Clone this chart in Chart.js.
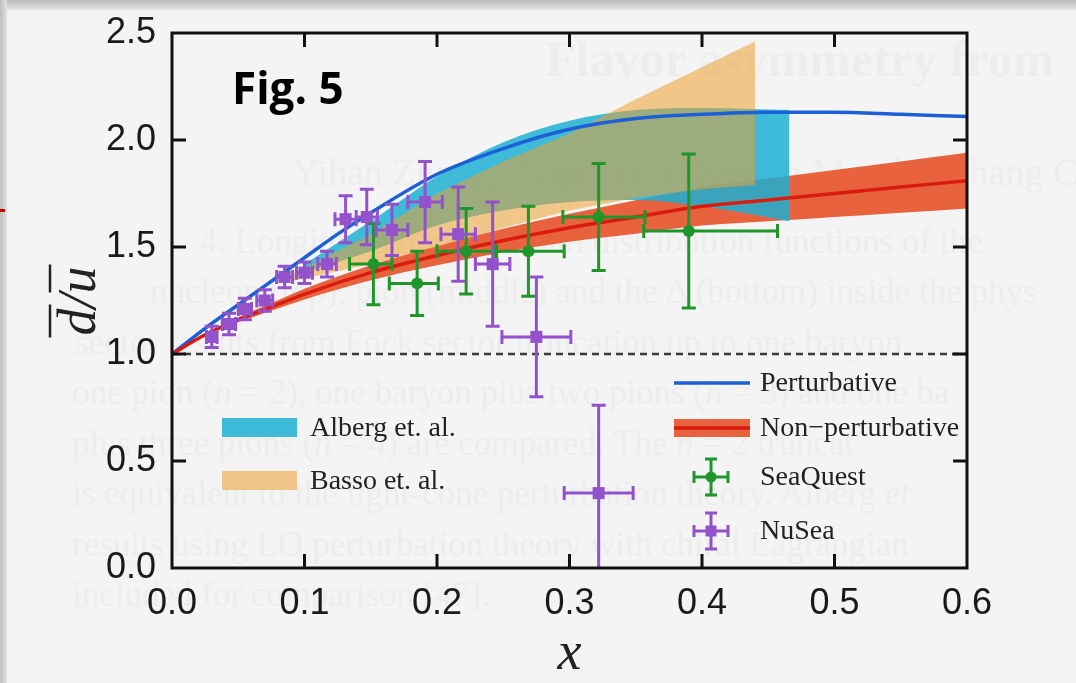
<!DOCTYPE html>
<html>
<head>
<meta charset="utf-8">
<script src="https://cdn.jsdelivr.net/npm/chart.js@4.4.1/dist/chart.umd.min.js"></script>
<style>
  html, body { margin: 0; padding: 0; }
  body { width: 1076px; height: 683px; overflow: hidden; background: #f4f4f4; position: relative; }
  #topbar { position: absolute; left: 0; top: 0; width: 1076px; height: 10px; background: linear-gradient(#b9b9b9, #e4e4e4); }
  #leftbar { position: absolute; left: 0; top: 0; width: 7px; height: 683px; background: linear-gradient(90deg, #bdbdbd, #e2e2e2); }
  #redmark { position: absolute; left: 0; top: 209px; width: 5px; height: 3px; background: #c40000; }
  .wm { position: absolute; color: #ededed; white-space: nowrap; font-family: 'Liberation Serif', serif; font-size: 35px; }
  #wrap { position: absolute; left: 0; top: 0; width: 1076px; height: 683px; }
</style>
</head>
<body>
<div id="topbar"></div>
<div id="leftbar"></div>
<div id="redmark"></div>
<div class="wm" style="left:545px;top:30px;font-size:50px;font-weight:bold;">Flavor asymmetry from</div>
<div class="wm" style="left:292px;top:150px;font-size:38px;">Yihan Zhong,<sup style="font-size:20px">1</sup> Siqi Xu,<sup style="font-size:20px">2</sup> Chandan Mondal, Shang Cheng,<sup style="font-size:20px">5</sup></div>
<div class="wm" style="left:200px;top:222px;">4. Longitudinal momentum distribution functions of the</div>
<div class="wm" style="left:150px;top:272px;">nucleon (top), pion (middle) and the Δ (bottom) inside the phys</div>
<div class="wm" style="left:75px;top:323px;">sector results from Fock sector truncation up to one baryon</div>
<div class="wm" style="left:72px;top:373px;">one pion (<i>n</i> = 2), one baryon plus two pions (<i>n</i> = 3) and one ba</div>
<div class="wm" style="left:72px;top:424px;">plus three pions (<i>n</i> = 4) are compared. The <i>n</i> = 2 truncat</div>
<div class="wm" style="left:72px;top:474px;">is equivalent to the light-cone perturbation theory. Alberg <i>et</i></div>
<div class="wm" style="left:72px;top:525px;">results using LO perturbation theory with chiral Lagrangian</div>
<div class="wm" style="left:72px;top:575px;">included for comparison [47].</div>
<div id="wrap"><canvas id="chart" width="1076" height="683"></canvas></div>
<script>
// axis ticks
const xTicks = [0, 0.1, 0.2, 0.3, 0.4, 0.5, 0.6];
const yTicks = [0, 0.5, 1.0, 1.5, 2.0, 2.5];

// Perturbative (blue line)
const pertX = [0, 0.025, 0.05, 0.075, 0.1, 0.125, 0.15, 0.2, 0.25, 0.3, 0.35, 0.4, 0.45, 0.5, 0.55, 0.6];
const pertY = [1.0, 1.12, 1.23, 1.34, 1.45, 1.56, 1.66, 1.84, 1.96, 2.05, 2.10, 2.12, 2.13, 2.13, 2.12, 2.11];

// Non-perturbative (red line + band)
const nonpX = [0, 0.025, 0.05, 0.075, 0.1, 0.15, 0.2, 0.25, 0.3, 0.35, 0.4, 0.45, 0.5, 0.55, 0.6];
const nonpY = [1.0, 1.09, 1.16, 1.22, 1.28, 1.38, 1.46, 1.53, 1.59, 1.64, 1.69, 1.72, 1.75, 1.78, 1.81];
const nonpHigh = [1.0, 1.096, 1.172, 1.238, 1.305, 1.415, 1.505, 1.585, 1.655, 1.718, 1.78, 1.82, 1.86, 1.90, 1.94];
const nonpLow = [1.0, 1.084, 1.148, 1.202, 1.255, 1.345, 1.415, 1.475, 1.525, 1.562, 1.60, 1.62, 1.64, 1.66, 1.68];

// Alberg et. al. band
const albergX = [0.1, 0.125, 0.15, 0.2, 0.25, 0.3, 0.35, 0.4, 0.466];
const albergHigh = [1.42, 1.52, 1.62, 1.83, 1.99, 2.09, 2.14, 2.15, 2.14];
const albergLow = [1.38, 1.43, 1.48, 1.60, 1.67, 1.71, 1.72, 1.69, 1.62];

// Basso et. al. band
const bassoX = [0.09, 0.15, 0.2, 0.25, 0.3, 0.35, 0.4, 0.44];
const bassoHigh = [1.37, 1.56, 1.75, 1.90, 2.03, 2.19, 2.34, 2.46];
const bassoLow = [1.34, 1.42, 1.50, 1.59, 1.67, 1.73, 1.77, 1.79];

// dashed reference at 1
const refX = [0, 0.6];
const refY = [1, 1];

// NuSea
const nuseaX = [0.030, 0.043, 0.055, 0.070, 0.085, 0.100, 0.117, 0.131, 0.147, 0.166, 0.191, 0.216, 0.242, 0.275, 0.322];
const nuseaY = [1.08, 1.14, 1.21, 1.25, 1.36, 1.38, 1.42, 1.63, 1.64, 1.58, 1.71, 1.56, 1.42, 1.08, 0.35];
const nuseaXErr = [0.004, 0.005, 0.005, 0.006, 0.006, 0.006, 0.007, 0.008, 0.008, 0.012, 0.013, 0.013, 0.013, 0.026, 0.026];
const nuseaYErr = [0.05, 0.05, 0.05, 0.05, 0.05, 0.05, 0.06, 0.11, 0.13, 0.12, 0.19, 0.22, 0.29, 0.28, 0.41];

// SeaQuest
const seaqX = [0.152, 0.185, 0.222, 0.269, 0.322, 0.390];
const seaqY = [1.42, 1.33, 1.48, 1.48, 1.64, 1.575];
const seaqXLow = [0.134, 0.164, 0.200, 0.243, 0.295, 0.356];
const seaqXHigh = [0.166, 0.201, 0.245, 0.296, 0.357, 0.457];
const seaqYErr = [0.19, 0.15, 0.20, 0.21, 0.25, 0.36];

const legendLeft = ['Alberg et. al.', 'Basso et. al.'];
const legendRight = ['Perturbative', 'Non\u2212perturbative', 'SeaQuest', 'NuSea'];

const BLUE = '#1d5fd6';
const RED = '#d91c0e';
const REDBAND = 'rgb(233,98,62)';
const CYAN = 'rgba(28,176,210,0.85)';
const ORANGE = 'rgba(236,160,50,0.55)';
const GREEN = '#1f962b';
const PURPLE = '#9451cc';

const pts = (xs, ys) => xs.map((x, i) => ({ x, y: ys[i] }));

const datasets = [
  { label: 'NuSea', data: pts(nuseaX, nuseaY), showLine: false, pointStyle: 'rect', pointRadius: 8.5,
    backgroundColor: PURPLE, borderColor: PURPLE, borderWidth: 0, order: 0 },
  { label: 'SeaQuest', data: pts(seaqX, seaqY), showLine: false, pointStyle: 'circle', pointRadius: 6,
    backgroundColor: GREEN, borderColor: GREEN, borderWidth: 0, order: 1 },
  { label: 'Non-perturbative', data: pts(nonpX, nonpY), borderColor: RED, borderWidth: 3.5, pointRadius: 0,
    cubicInterpolationMode: 'monotone', fill: false, order: 2 },
  { label: 'Perturbative', data: pts(pertX, pertY), borderColor: BLUE, borderWidth: 3.5, pointRadius: 0,
    cubicInterpolationMode: 'monotone', fill: false, order: 3 },
  { label: 'ref', data: pts(refX, refY), borderColor: '#3a3a3a', borderWidth: 2.5, borderDash: [7, 5], pointRadius: 0,
    fill: false, order: 4 },
  { label: 'Basso high', data: pts(bassoX, bassoHigh), borderWidth: 0, pointRadius: 0, tension: 0,
    fill: 6, backgroundColor: ORANGE, order: 5 },
  { label: 'Basso low', data: pts(bassoX, bassoLow), borderWidth: 0, pointRadius: 0, tension: 0,
    fill: false, order: 6 },
  { label: 'Alberg high', data: pts(albergX, albergHigh), borderWidth: 0, pointRadius: 0,
    cubicInterpolationMode: 'monotone', fill: 8, backgroundColor: CYAN, order: 7 },
  { label: 'Alberg low', data: pts(albergX, albergLow), borderWidth: 0, pointRadius: 0,
    cubicInterpolationMode: 'monotone', fill: false, order: 8 },
  { label: 'Band high', data: pts(nonpX, nonpHigh), borderWidth: 0, pointRadius: 0,
    cubicInterpolationMode: 'monotone', fill: 10, backgroundColor: REDBAND, order: 9 },
  { label: 'Band low', data: pts(nonpX, nonpLow), borderWidth: 0, pointRadius: 0,
    cubicInterpolationMode: 'monotone', fill: false, order: 10 }
];

// error bars, drawn just before the marker datasets
const errorSets = {
  0: { xs: nuseaX, ys: nuseaY, xlo: nuseaX.map((v, i) => v - nuseaXErr[i]), xhi: nuseaX.map((v, i) => v + nuseaXErr[i]), ye: nuseaYErr, color: PURPLE },
  1: { xs: seaqX, ys: seaqY, xlo: seaqXLow, xhi: seaqXHigh, ye: seaqYErr, color: GREEN }
};

const errorBars = {
  id: 'errorBars',
  beforeDatasetDraw(chart, args) {
    const e = errorSets[args.index];
    if (!e) return;
    const { ctx, chartArea: a, scales: { x, y } } = chart;
    ctx.save();
    ctx.beginPath();
    ctx.rect(a.left, a.top, a.right - a.left, a.bottom - a.top);
    ctx.clip();
    ctx.strokeStyle = e.color;
    ctx.lineWidth = 3;
    ctx.beginPath();
    e.xs.forEach((v, i) => {
      const cx = x.getPixelForValue(v), cy = y.getPixelForValue(e.ys[i]);
      const l = x.getPixelForValue(e.xlo[i]), r = x.getPixelForValue(e.xhi[i]);
      const t = y.getPixelForValue(e.ys[i] + e.ye[i]), b = y.getPixelForValue(e.ys[i] - e.ye[i]);
      ctx.moveTo(l, cy); ctx.lineTo(r, cy);
      ctx.moveTo(l, cy - 7); ctx.lineTo(l, cy + 7);
      ctx.moveTo(r, cy - 7); ctx.lineTo(r, cy + 7);
      ctx.moveTo(cx, t); ctx.lineTo(cx, b);
      ctx.moveTo(cx - 7, t); ctx.lineTo(cx + 7, t);
      ctx.moveTo(cx - 7, b); ctx.lineTo(cx + 7, b);
    });
    ctx.stroke();
    ctx.restore();
  }
};

// frame with inward ticks on all four sides
const frame = {
  id: 'frame',
  afterDatasetsDraw(chart) {
    const { ctx, chartArea: a, scales: { x, y } } = chart;
    ctx.save();
    ctx.strokeStyle = '#111';
    ctx.lineWidth = 3;
    ctx.strokeRect(a.left, a.top, a.right - a.left, a.bottom - a.top);
    ctx.beginPath();
    xTicks.slice(1, -1).forEach(v => {
      const px = x.getPixelForValue(v);
      ctx.moveTo(px, a.bottom); ctx.lineTo(px, a.bottom - 14);
      ctx.moveTo(px, a.top); ctx.lineTo(px, a.top + 14);
    });
    yTicks.slice(1, -1).forEach(v => {
      const py = y.getPixelForValue(v);
      ctx.moveTo(a.left, py); ctx.lineTo(a.left + 14, py);
      ctx.moveTo(a.right, py); ctx.lineTo(a.right - 14, py);
    });
    ctx.stroke();
    ctx.restore();
  }
};

// legends, figure tag and y label
const decor = {
  id: 'decor',
  afterDraw(chart) {
    const { ctx } = chart;
    ctx.save();
    ctx.fillStyle = '#222';
    ctx.textBaseline = 'middle';
    ctx.font = '28px "Liberation Serif"';

    // left legend
    ctx.fillStyle = CYAN; ctx.fillRect(222, 418, 75, 19);
    ctx.fillStyle = ORANGE; ctx.fillRect(222, 471, 75, 19);
    ctx.fillStyle = '#222';
    ctx.fillText(legendLeft[0], 310, 429);
    ctx.fillText(legendLeft[1], 310, 482);

    // right legend
    ctx.strokeStyle = BLUE; ctx.lineWidth = 3.5;
    ctx.beginPath(); ctx.moveTo(674, 383); ctx.lineTo(750, 383); ctx.stroke();
    ctx.fillStyle = REDBAND; ctx.fillRect(674, 419, 76, 18);
    ctx.strokeStyle = RED;
    ctx.beginPath(); ctx.moveTo(674, 428); ctx.lineTo(750, 428); ctx.stroke();
    [[477, GREEN, 'circle'], [531, PURPLE, 'rect']].forEach(([cy, col, shape]) => {
      const cx = 711;
      ctx.strokeStyle = col; ctx.fillStyle = col; ctx.lineWidth = 3;
      ctx.beginPath();
      ctx.moveTo(cx - 17, cy); ctx.lineTo(cx + 17, cy);
      ctx.moveTo(cx - 17, cy - 6); ctx.lineTo(cx - 17, cy + 6);
      ctx.moveTo(cx + 17, cy - 6); ctx.lineTo(cx + 17, cy + 6);
      ctx.moveTo(cx, cy - 18); ctx.lineTo(cx, cy + 18);
      ctx.moveTo(cx - 6, cy - 18); ctx.lineTo(cx + 6, cy - 18);
      ctx.moveTo(cx - 6, cy + 18); ctx.lineTo(cx + 6, cy + 18);
      ctx.stroke();
      ctx.beginPath();
      if (shape === 'circle') ctx.arc(cx, cy, 5.5, 0, Math.PI * 2);
      else ctx.rect(cx - 5.5, cy - 5.5, 11, 11);
      ctx.fill();
    });
    ctx.fillStyle = '#222';
    ctx.fillText(legendRight[0], 760, 384);
    ctx.fillText(legendRight[1], 760, 429);
    ctx.fillText(legendRight[2], 760, 478);
    ctx.fillText(legendRight[3], 760, 532);

    // Fig. 5
    ctx.fillStyle = '#000';
    ctx.textBaseline = 'alphabetic';
    ctx.font = 'bold 44px "Open Sans"';
    ctx.fillText('Fig. 5', 232, 104);

    // y label: d-bar / u-bar, rotated
    ctx.translate(95, 301);
    ctx.rotate(-Math.PI / 2);
    ctx.font = 'italic 54px "Liberation Serif"';
    ctx.fillStyle = '#222';
    ctx.textAlign = 'left';
    const full = ctx.measureText('d/u').width;
    const wd = ctx.measureText('d').width;
    const wds = ctx.measureText('d/').width;
    const x0 = -full / 2;
    ctx.fillText('d/u', x0, 0);
    ctx.strokeStyle = '#222'; ctx.lineWidth = 2.5;
    ctx.beginPath();
    ctx.moveTo(x0 - 2, -45); ctx.lineTo(x0 + wd + 4, -45);
    ctx.moveTo(x0 + wds + 1, -45); ctx.lineTo(x0 + full + 2, -45);
    ctx.stroke();
    ctx.restore();
  }
};

new Chart(document.getElementById('chart'), {
  type: 'line',
  data: { datasets },
  options: {
    responsive: false,
    animation: false,
    devicePixelRatio: 1,
    layout: { padding: { left: 0, top: 33, right: 109, bottom: 0 } },
    plugins: { legend: { display: false }, tooltip: { enabled: false } },
    scales: {
      x: {
        type: 'linear', min: 0, max: 0.6,
        afterBuildTicks: s => { s.ticks = xTicks.map(v => ({ value: v })); },
        afterFit: s => { s.height = 115; },
        grid: { display: false }, border: { display: false },
        ticks: { padding: 6, color: '#1a1a1a', font: { family: 'Liberation Sans', size: 36 },
          maxRotation: 0, callback: v => v.toFixed(1) },
        title: { display: true, text: 'x', color: '#222', padding: { top: 0, bottom: 1 },
          font: { family: 'Liberation Serif', style: 'italic', size: 54, lineHeight: 1 } }
      },
      y: {
        type: 'linear', min: 0, max: 2.5,
        afterBuildTicks: s => { s.ticks = yTicks.map(v => ({ value: v })); },
        afterFit: s => { s.width = 172; },
        grid: { display: false }, border: { display: false },
        ticks: { padding: 8, color: '#1a1a1a', font: { family: 'Liberation Sans', size: 36 },
          callback: v => v.toFixed(1) }
      }
    }
  },
  plugins: [errorBars, frame, decor]
});
</script>
</body>
</html>
